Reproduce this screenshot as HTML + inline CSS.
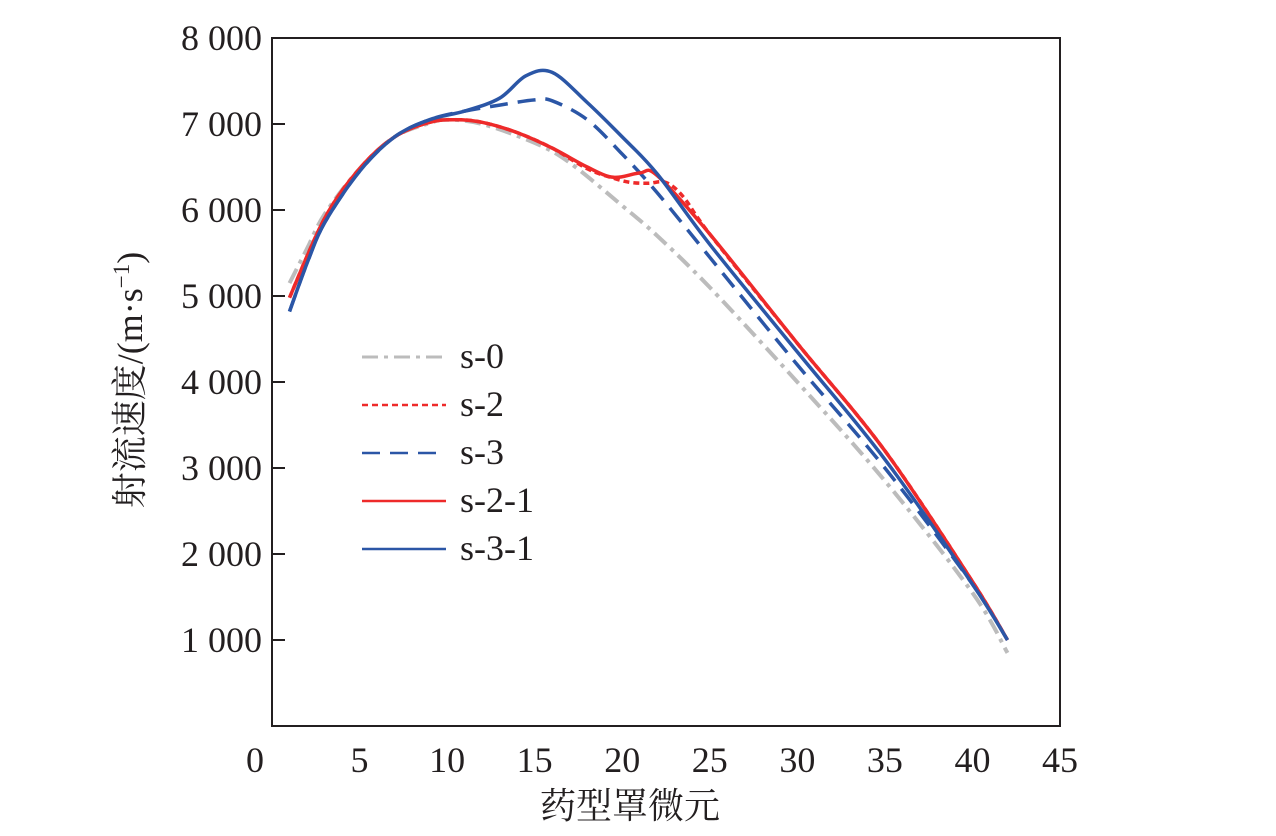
<!DOCTYPE html>
<html><head><meta charset="utf-8"><style>
body{margin:0;background:#fff}
text{font-family:"Liberation Serif","Noto Serif CJK SC",serif;fill:#231f20}
</style></head><body>
<svg id="c" width="1276" height="831">
<rect x="272" y="38" width="788" height="688" fill="none" stroke="#231f20" stroke-width="2"/>
<g id="ax"></g><g id="ser"></g><g id="leg"></g>
<text transform="translate(142,380) rotate(-90)" text-anchor="middle" font-size="36">射流速度/(m·s<tspan dy="-13" font-size="23">−1</tspan><tspan dy="13">)</tspan></text>
<text x="630" y="818" text-anchor="middle" font-size="36">药型罩微元</text>
</svg>
<script>
const xTicks=[0,5,10,15,20,25,30,35,40,45];
const yTicks=[1000,2000,3000,4000,5000,6000,7000,8000];
const yTickLabels=["1 000","2 000","3 000","4 000","5 000","6 000","7 000","8 000"];
const names=["s-0","s-2","s-3","s-2-1","s-3-1"];
const s0X=[1,2,3,5,7,9,10,12,15,17,20,22,25,30,35,40,42];
const s0Y=[5150,5550,5950,6480,6850,7010,7050,7000,6780,6550,6050,5700,5100,4000,2850,1550,850];
const s2X=[1,3,5,7,9,10.5,12,14,16,18,19.5,20.5,21.5,22.5,23.5,25,30,35,40,42];
const s2Y=[4980,5900,6480,6850,7020,7050,7020,6900,6720,6480,6370,6320,6310,6320,6150,5720,4450,3200,1680,1000];
const s3X=[1,2,3,5,7,9,11,13,15,16,18,20,22,25,30,35,40,42];
const s3Y=[4820,5380,5850,6450,6850,7050,7150,7220,7280,7270,7050,6650,6200,5450,4200,3000,1650,1000];
const s21X=[1,3,5,7,9,10.5,12,14,16,18,19.5,21,22,25,30,35,40,42];
const s21Y=[4980,5900,6480,6850,7020,7050,7020,6900,6720,6500,6380,6430,6400,5720,4450,3200,1680,1000];
const s31X=[1,2,3,5,7,9,11,13,14.5,16,18,20,22,25,30,35,40,42];
const s31Y=[4820,5380,5850,6450,6850,7050,7150,7300,7560,7600,7250,6850,6420,5600,4350,3100,1650,1000];
const X=v=>272+v*788/45, Y=v=>726-v*0.086;
const NS="http://www.w3.org/2000/svg";
function mk(t,a,p){const e=document.createElementNS(NS,t);for(const k in a)e.setAttribute(k,a[k]);p.appendChild(e);return e;}
function smooth(P){let d='M'+P[0][0]+','+P[0][1];for(let i=0;i<P.length-1;i++){const p0=P[i-1]||P[i],p1=P[i],p2=P[i+1],p3=P[i+2]||p2;
const c1=[p1[0]+(p2[0]-p0[0])/6,p1[1]+(p2[1]-p0[1])/6],c2=[p2[0]-(p3[0]-p1[0])/6,p2[1]-(p3[1]-p1[1])/6];
d+=' C'+c1.map(v=>v.toFixed(1))+' '+c2.map(v=>v.toFixed(1))+' '+p2.map(v=>v.toFixed(1));}return d;}
const ax=document.getElementById('ax');
xTicks.forEach(v=>{
 const t=mk('text',{x:v===0?255:X(v),y:772,'text-anchor':'middle','font-size':36},ax);t.textContent=v;
 
 
});
yTicks.forEach((v,i)=>{
 const l=mk('line',{x1:272,x2:285,y1:Y(v),y2:Y(v),stroke:'#231f20','stroke-width':2},ax);
 
 
 const t=mk('text',{x:262,y:Y(v)+12,'text-anchor':'end','font-size':36},ax);t.textContent=yTickLabels[i];
 
 
});
const styles=[
 {c:'#bcbcbc',d:'16 6 4 6',w:4},
 {c:'#ee2a2a',d:'6 4',w:3.5},
 {c:'#2b56a6',d:'18 10',w:3.5},
 {c:'#ee2a2a',d:'',w:3.5},
 {c:'#2b56a6',d:'',w:3.5}];
const xs=[s0X,s2X,s3X,s21X,s31X], ys=[s0Y,s2Y,s3Y,s21Y,s31Y];
const ser=document.getElementById('ser'), leg=document.getElementById('leg');
names.forEach((n,i)=>{
 const s=styles[i];
 const P=xs[i].map((x,j)=>[X(x),Y(ys[i][j])]);
 const p=mk('path',{d:smooth(P),fill:'none',stroke:s.c,'stroke-width':s.w,'stroke-dasharray':s.d,'stroke-linejoin':'round'},ser);
 
 
 const yy=357+i*48;
 const l=mk('line',{x1:362,x2:446,y1:yy,y2:yy,stroke:s.c,'stroke-width':s.w-1,'stroke-dasharray':s.d},leg);
 
 
 const t=mk('text',{x:460,y:yy+11,'font-size':36},leg);t.textContent=n;
 
 
});
</script>
</body></html>
